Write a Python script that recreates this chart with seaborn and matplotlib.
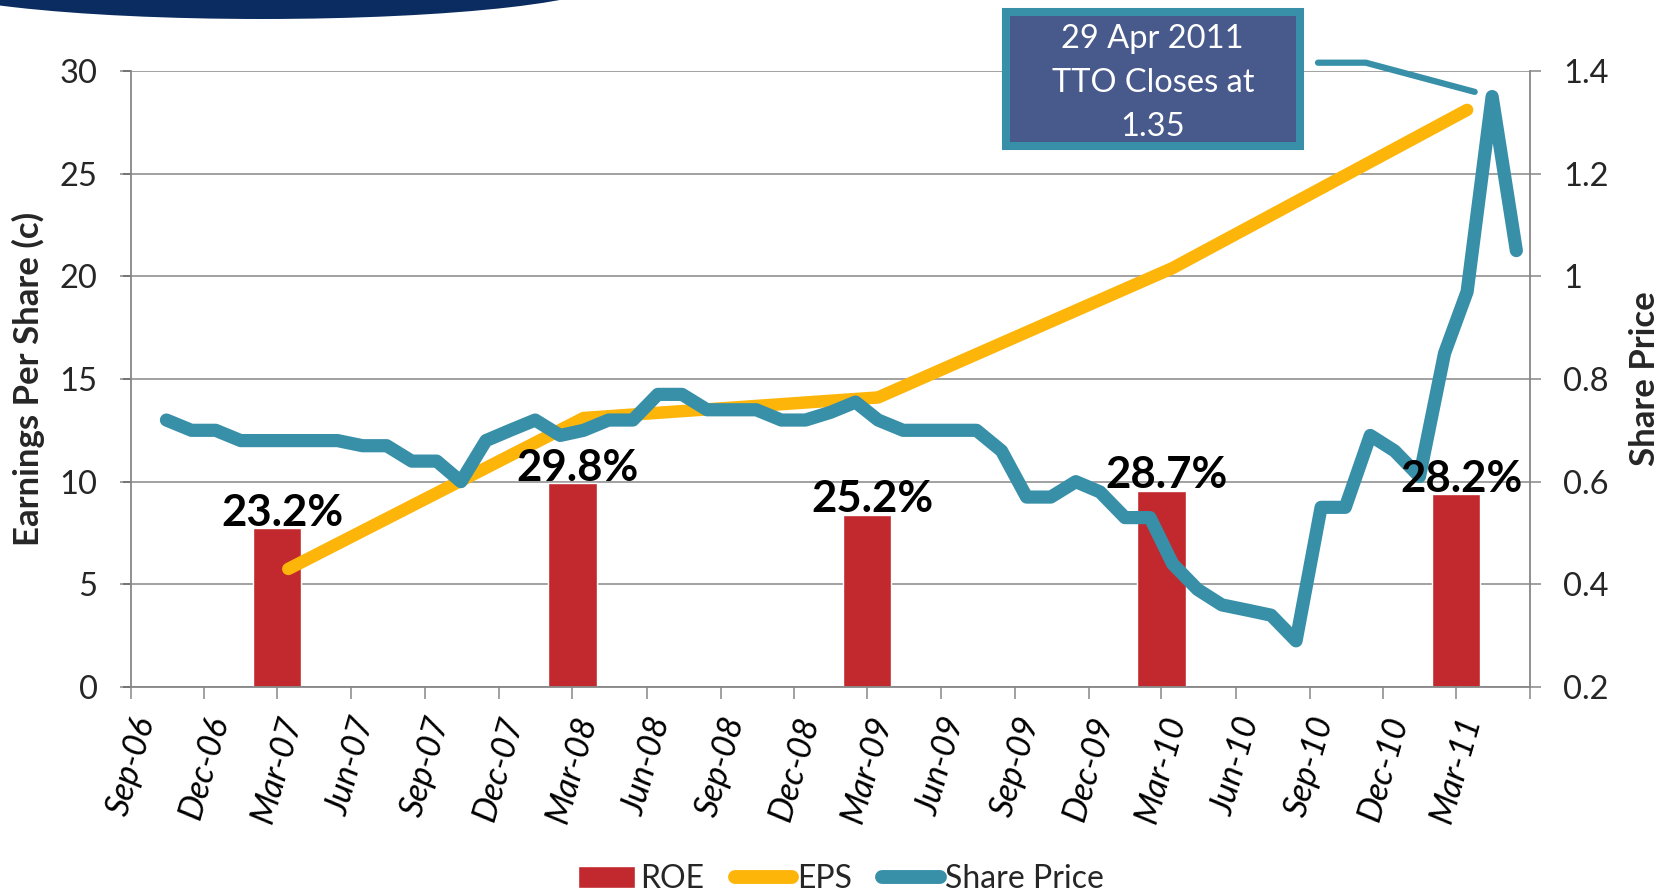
#!/usr/bin/env python

import numpy as np
import pandas as pd
import seaborn as sns
import matplotlib.pyplot as plt
import matplotlib.dates as mdates
from matplotlib.lines import Line2D
from matplotlib.patches import Patch, Rectangle, Ellipse

# values
price_months = pd.date_range('2006-10-01', '2011-05-01', freq='MS') + pd.Timedelta(days=14)
share_price = [0.72, 0.70, 0.70, 0.68, 0.68, 0.68, 0.68, 0.68, 0.67, 0.67,
               0.64, 0.64, 0.60, 0.68, 0.70, 0.72, 0.69, 0.70, 0.72, 0.72,
               0.77, 0.77, 0.74, 0.74, 0.74, 0.72, 0.72, 0.735, 0.755, 0.72,
               0.70, 0.70, 0.70, 0.70, 0.66, 0.57, 0.57, 0.60, 0.58, 0.53,
               0.53, 0.44, 0.39, 0.36, 0.35, 0.34, 0.29, 0.55, 0.55, 0.69,
               0.66, 0.61, 0.85, 0.97, 1.35, 1.05]

eps_dates = pd.to_datetime(['2007-03-15', '2008-03-15', '2009-03-15', '2010-03-15', '2011-03-15'])
eps = [5.75, 13.1, 14.1, 20.4, 28.1]

roe_dates = pd.to_datetime(['2007-03-01', '2008-03-01', '2009-03-01', '2010-03-01', '2011-03-01'])
roe = [23.2, 29.8, 25.2, 28.7, 28.2]

tick_dates = pd.date_range('2006-09-01', '2011-06-01', freq='3MS')
tick_labels = ['Sep-06', 'Dec-06', 'Mar-07', 'Jun-07', 'Sep-07', 'Dec-07', 'Mar-08',
               'Jun-08', 'Sep-08', 'Dec-08', 'Mar-09', 'Jun-09', 'Sep-09', 'Dec-09',
               'Mar-10', 'Jun-10', 'Sep-10', 'Dec-10', 'Mar-11', '']

eps_ticks = [0, 5, 10, 15, 20, 25, 30]
price_ticks = [0.2, 0.4, 0.6, 0.8, 1.0, 1.2, 1.4]
price_tick_labels = ['0.2', '0.4', '0.6', '0.8', '1', '1.2', '1.4']

RED = '#C1292E'
GOLD = '#FDB50A'
TEAL = '#378FA8'
GRID = '#878787'

sns.set_theme(style='white')
plt.rcParams['font.family'] = ['Lato', 'DejaVu Sans']

fig = plt.figure(figsize=(16.68, 8.96), dpi=100)

# bottom axes: ROE bars, grid and date axis
ax_roe = fig.add_axes([0.0785, 0.2332, 0.8388, 0.6877])
ax_roe.bar(roe_dates, roe, width=60, color=RED, zorder=2)
ax_roe.set_ylim(0, 90)
ax_roe.set_yticks(np.array(eps_ticks) * 3)
ax_roe.grid(axis='y', color=GRID, lw=1.1)
ax_roe.tick_params(axis='y', left=False, right=False, labelleft=False, labelright=False)
ax_roe.set_xlim(tick_dates[0], tick_dates[-1])
ax_roe.set_xticks(tick_dates)
ax_roe.set_xticklabels(tick_labels, rotation=74, fontstyle='italic', fontsize=24.5)
ax_roe.tick_params(axis='x', bottom=True, direction='out', length=8.5, width=1.1,
                   color=GRID, pad=10, labelcolor='black')
for side in ['left', 'right', 'bottom']:
    ax_roe.spines[side].set_color(GRID)
    ax_roe.spines[side].set_linewidth(1.3)
ax_roe.spines['top'].set_visible(False)

# EPS on the left axis
ax = ax_roe.twinx()
ax.yaxis.set_ticks_position('left')
ax.yaxis.set_label_position('left')
sns.lineplot(x=eps_dates, y=eps, ax=ax, color=GOLD, linewidth=9,
             solid_capstyle='round', solid_joinstyle='round')
ax.set_ylim(0, 30)
ax.set_yticks(eps_ticks)
ax.tick_params(axis='y', left=True, direction='out', length=8, width=1.1, color=GRID,
               labelsize=23.5, pad=16)
ax.set_ylabel('Earnings Per Share (c)', fontsize=25, fontweight='bold')
ax.yaxis.set_label_coords(-0.0615, 0.5)

# share price on the right axis
ax2 = ax_roe.twinx()
sns.lineplot(x=price_months, y=share_price, ax=ax2, color=TEAL, linewidth=9.5,
             solid_capstyle='round', solid_joinstyle='round')
ax2.set_ylim(0.2, 1.4)
ax2.set_yticks(price_ticks)
ax2.set_yticklabels(price_tick_labels)
ax2.tick_params(axis='y', right=True, direction='out', length=8, width=1.1, color=GRID,
                labelsize=23.5, pad=16)
ax2.set_ylabel('Share Price', fontsize=25, fontweight='bold')
ax2.yaxis.set_label_coords(1.071, 0.5)

for a in (ax, ax2):
    for s in a.spines.values():
        s.set_visible(False)
    a.set_xlabel('')

# ROE labels, drawn in the top axes so they sit over the lines
for d, v in zip(roe_dates, roe):
    ax2.annotate(f'{v:.1f}%', xy=(mdates.date2num(d), v), xycoords=ax_roe.transData,
                 xytext=(4, 1.5), textcoords='offset points', ha='center', va='baseline',
                 fontsize=31.5, fontweight='bold', color='black')

# callout for the April 2011 close
peak = int(np.argmax(share_price))
W, H = 1668, 896
fig.patches.append(Rectangle((1005.5 / W, 1 - 146.5 / H), 294.5 / W, 134 / H,
                             transform=fig.transFigure, fc='#485A8B', ec=TEAL, lw=5.8))
fig.text(1152.8 / W, 1 - 83 / H, '29 Apr 2011\nTTO Closes at\n' + f'{share_price[peak]:.2f}',
         ha='center', va='center', color='white', fontsize=23.5, linespacing=1.58)
ax2.annotate('', xy=(price_months[peak], share_price[peak]),
             xytext=(1318 / W, 1 - 62.7 / H), textcoords='figure fraction',
             arrowprops=dict(arrowstyle='-', color=TEAL, lw=4.5, shrinkA=0, shrinkB=13,
                             connectionstyle='angle,angleA=0,angleB=165,rad=0'),
             annotation_clip=False)

# slide header remnant in the top-left corner
fig.patches.append(Ellipse((262 / W, 1 + 21 / H), 700 / W, 80 / H,
                           transform=fig.transFigure, fc='#0B2C60', ec='none'))

handles = [Patch(facecolor=RED),
           Line2D([], [], color=GOLD, lw=10, solid_capstyle='round'),
           Line2D([], [], color=TEAL, lw=10, solid_capstyle='round')]
fig.legend(handles, ['ROE', 'EPS', 'Share Price'], loc='center',
           bbox_to_anchor=(0.504, 0.019), ncol=3, frameon=False, fontsize=23,
           handlelength=1.8, handleheight=0.7, handletextpad=0.15, columnspacing=0.95)

fig.savefig('out.png', dpi=100)
